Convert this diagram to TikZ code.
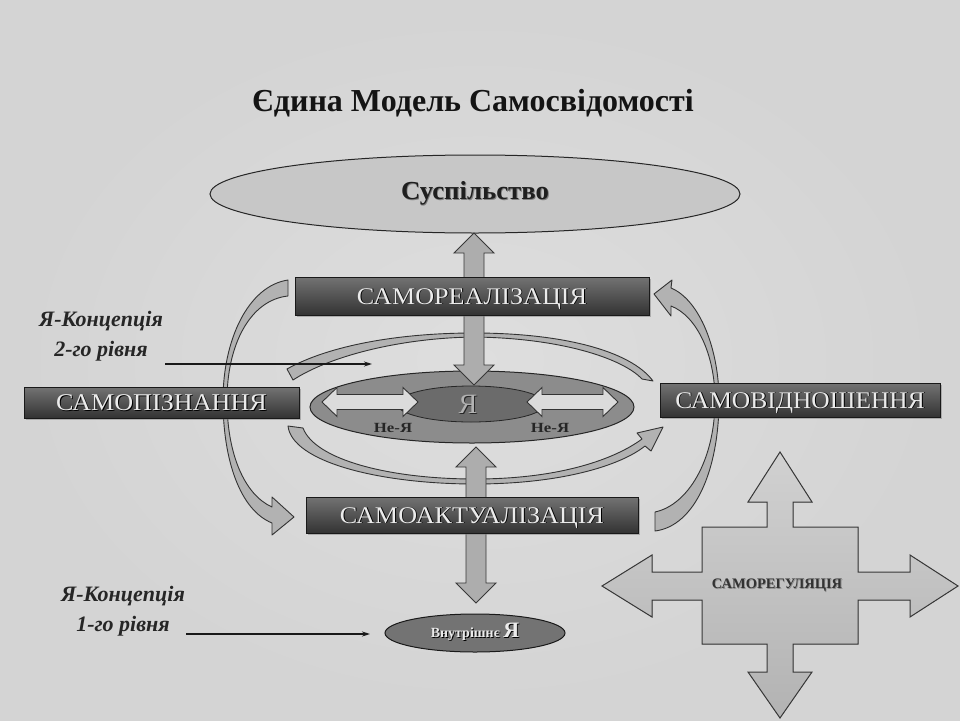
\documentclass[tikz,border=0pt]{standalone}
\usepackage{fontspec}
\setmainfont{Liberation Serif}
\usetikzlibrary{shadows,shapes.geometric,arrows.meta,calc}
\newcommand\Embossed[2]{\leavevmode\rlap{\kern0.9pt\raisebox{-0.9pt}{\textcolor{#1}{#2}}}#2}
\newcommand\BoxText[1]{\scalebox{1.09}[1]{\Embossed{black}{#1}}}
\newcommand\VDArrow[3]{%
  \filldraw[blockarrow] (#1,#2) -- (#1+20,#2+20) -- (#1+10,#2+20) -- (#1+10,#3-20) -- (#1+20,#3-20) -- (#1,#3) -- (#1-20,#3-20) -- (#1-10,#3-20) -- (#1-10,#2+20) -- (#1-20,#2+20) -- cycle;}
\newcommand\HDArrow[3]{%
  \filldraw[harrow] (#2,#1) -- (#2+15,#1-14.5) -- (#2+15,#1-7.5) -- (#3-15,#1-7.5) -- (#3-15,#1-14.5) -- (#3,#1) -- (#3-15,#1+14.5) -- (#3-15,#1+7.5) -- (#2+15,#1+7.5) -- (#2+15,#1+14.5) -- cycle;}
\begin{document}
\begin{tikzpicture}[x=1pt,y=-1pt,
  ribbon/.style={fill=black!30, draw=black!80, line width=0.9pt, line join=round},
  blockarrow/.style={fill=black!32, draw=black!78, line width=0.9pt},
  harrow/.style={fill=black!14, draw=black!80, line width=0.9pt},
  boxdark/.style={rectangle, draw=black!90, line width=0.6pt, top color=black!55, bottom color=black!80,
    text=black!8, inner sep=0pt, font=\fontsize{24}{24}\selectfont, text height=16pt, text depth=0pt,
    drop shadow={shadow xshift=1.5pt, shadow yshift=-1.5pt, opacity=0.5}},
  thinarrow/.style={-{Stealth[length=8pt,width=5pt]}, line width=1.4pt, draw=black!90},
  concept/.style={align=center, font=\bfseries\itshape\fontsize{22}{30}\selectfont, text=black!85},
  nelabel/.style={font=\bfseries\fontsize{14}{14}\selectfont, text=black!85},
]
\useasboundingbox (0,0) rectangle (960,720);
\shade[inner color=black!13, outer color=black!17] (0,0) rectangle (960,720);

% title
\node[font=\bfseries\fontsize{32}{32}\selectfont, text=black!92] (title) at (473,103) {Єдина Модель Самосвідомості};

% society
\node[ellipse, draw=black!85, line width=1pt, fill=black!22, minimum width=530, minimum height=78, inner sep=0pt] (soc) at (475,194) {};
\node[font=\bfseries\fontsize{26}{26}\selectfont, text=black!88] (soctext) at (soc.center) {\scalebox{1.03}[1]{\Embossed{black!50}{Суспільство}}};

% big curved arrows
\filldraw[ribbon] (288,280) .. controls (248,286) and (223,340) .. (223,400) .. controls (223,460) and (240,510) .. (272,523) -- (272,535) -- (294,517) -- (272,497) -- (272,507) .. controls (245,495) and (227,455) .. (227,400) .. controls (227,345) and (250,300) .. (288,296) -- cycle;
\filldraw[ribbon] (671,288) .. controls (700,300) and (719,350) .. (719,400) .. controls (719,470) and (695,526) .. (655,531) -- (655,512) .. controls (688,505) and (715,460) .. (715,400) .. controls (715,355) and (697,316) .. (671,306) -- (671,316) -- (654,294) -- (672,280) -- cycle;

% inner rings
\filldraw[ribbon] (287,369) .. controls (330,345) and (400,333) .. (474,333) .. controls (560,333) and (630,350) .. (653,381) -- (642,379) .. controls (622,358) and (560,338) .. (474,337) .. controls (400,338) and (330,356) .. (293,380) -- cycle;
\filldraw[ribbon] (288,426) .. controls (292,462) and (380,484) .. (475,484) .. controls (560,484) and (620,466) .. (645,446) -- (651,451) -- (663,427) -- (637,433) -- (642,439) .. controls (615,459) and (560,479) .. (475,479) .. controls (390,479) and (315,460) .. (303,428) -- cycle;

% I / not-I
\node[ellipse, draw=black!85, line width=1pt, fill=black!45, minimum width=324, minimum height=72, inner sep=0pt] (neya) at (472,407) {};
\node[ellipse, draw=black!85, line width=0.8pt, fill=black!58, minimum width=148, minimum height=36, inner sep=0pt] (ya) at (471,404) {};
\HDArrow{402}{322}{418}
\HDArrow{402}{527}{618}
\node[font=\fontsize{28}{28}\selectfont, text=black!30, text height=19pt, text depth=0pt, inner sep=0pt] (yatext) at (468,404) {\Embossed{black!85}{Я}};
\node[nelabel] (ne1) at (393,428) {\scalebox{1.2}[1]{Не-Я}};
\node[nelabel] (ne2) at (550,428) {\scalebox{1.2}[1]{Не-Я}};

% vertical block arrows
\VDArrow{474}{233}{385}
\VDArrow{476}{447}{603}

% boxes
\node[boxdark, minimum width=354, minimum height=38] (sreal) at (472,296) {\BoxText{САМОРЕАЛІЗАЦІЯ}};
\node[boxdark, minimum width=275, minimum height=31] (spizn) at (161.5,402.5) {\BoxText{САМОПІЗНАННЯ}};
\node[boxdark, minimum width=280, minimum height=34] (svidn) at (800,400) {\scalebox{1.06}[1]{\Embossed{black}{САМОВІДНОШЕННЯ}}};
\node[boxdark, minimum width=332, minimum height=36] (sakt) at (472,515) {\BoxText{САМОАКТУАЛІЗАЦІЯ}};

% inner I
\node[ellipse, draw=black!90, line width=1pt, fill=black!55, minimum width=180, minimum height=38, inner sep=0pt] (inner) at (475,633) {};
\node[text=black!8] (innertext) at (475,632) {\Embossed{black}{\bfseries\fontsize{14}{14}\selectfont Внутрішнє} \Embossed{black}{\fontsize{22}{22}\selectfont Я}};

% concepts
\node[concept] (c2) at (101,336) {Я-Концепція\\2-го рівня};
\coordinate (c2a) at (165,364);
\coordinate (c2b) at (372,364);
\draw[thinarrow] (c2a) -- (c2b);
\node[concept] (c1) at (123,611) {Я-Концепція\\1-го рівня};
\coordinate (c1a) at (186,634);
\coordinate (c1b) at (370,634);
\draw[thinarrow] (c1a) -- (c1b);

% self-regulation cross
\filldraw[top color=black!18, bottom color=black!30, draw=black!78, line width=1pt]
 (780,452) -- (812,502) -- (793,502) -- (793,527) -- (858,527) -- (858,572) -- (910,572) -- (910,555) -- (958,586) -- (910,617) -- (910,600) -- (858,600) -- (858,644) -- (793,644) -- (793,672) -- (812,672) -- (780,718) -- (748,672) -- (767,672) -- (767,644) -- (702,644) -- (702,600) -- (652,600) -- (652,617) -- (602,586) -- (652,555) -- (652,572) -- (702,572) -- (702,527) -- (767,527) -- (767,502) -- (748,502) -- cycle;
\node[font=\bfseries\fontsize{14.5}{14.5}\selectfont, text=black!80] (selfreg) at (777,586) {\Embossed{black!45}{САМОРЕГУЛЯЦІЯ}};
\end{tikzpicture}
\end{document}
